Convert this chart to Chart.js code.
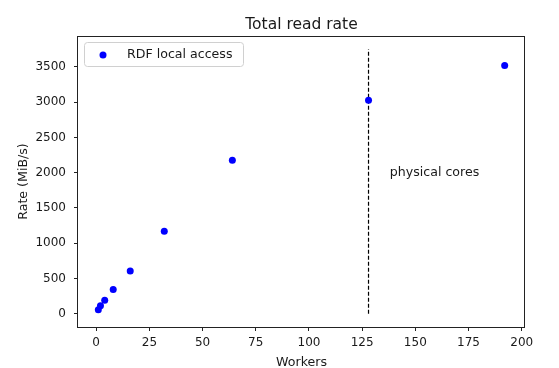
<!DOCTYPE html>
<html>
<head>
<meta charset="utf-8">
<script src="https://cdn.jsdelivr.net/npm/chart.js@4"></script>
<style>
  html, body { margin: 0; padding: 0; background: #fff; }
  #wrap { width: 559px; height: 368px; }
</style>
</head>
<body>
<div id="wrap"><canvas id="rateChart"></canvas></div>
<script>
// data
const workers = [1, 2, 4, 8, 16, 32, 64, 128, 192];
const rates = [57, 113, 193, 343, 608, 1170, 2175, 3025, 3520];
const seriesLabel = 'RDF local access';

const coresX = 128;
const coresLine = [0, 3750];
const coresText = 'physical cores';
const coresTextPos = [138, 1960];

const xTicks = [0, 25, 50, 75, 100, 125, 150, 175, 200];
const yTicks = [0, 500, 1000, 1500, 2000, 2500, 3000, 3500];

const FONT = 'DejaVu Sans';
const TXT = '#1a1a1a';

const decor = {
  id: 'decor',
  afterDraw(chart) {
    const { ctx, chartArea: a, scales } = chart;
    const x = scales.x, y = scales.y;
    ctx.save();

    // axes frame
    ctx.strokeStyle = '#222';
    ctx.lineWidth = 1;
    ctx.strokeRect(Math.round(a.left) - 0.5, Math.round(a.top) + 0.5,
      Math.round(a.right - a.left), Math.round(a.bottom - a.top));

    ctx.fillStyle = TXT;
    // title
    ctx.font = '15.5px "' + FONT + '"';
    ctx.textAlign = 'center';
    ctx.textBaseline = 'alphabetic';
    ctx.fillText('Total read rate', (a.left + a.right) / 2, 29);

    // axis titles
    ctx.font = '12.6px "' + FONT + '"';
    ctx.fillText('Workers', (a.left + a.right) / 2, 366);
    ctx.save();
    ctx.translate(26.5, (a.top + a.bottom) / 2);
    ctx.rotate(-Math.PI / 2);
    ctx.fillText('Rate (MiB/s)', 0, 0);
    ctx.restore();

    // annotation
    ctx.textAlign = 'left';
    ctx.fillText(coresText, x.getPixelForValue(coresTextPos[0]), y.getPixelForValue(coresTextPos[1]));

    // legend
    ctx.fillStyle = 'rgba(255,255,255,0.8)';
    ctx.strokeStyle = '#d0d0d0';
    ctx.beginPath();
    ctx.roundRect(84.5, 42.5, 159, 24, 3);
    ctx.fill();
    ctx.stroke();
    ctx.fillStyle = '#0000ff';
    ctx.beginPath();
    ctx.arc(103, 55, 3.5, 0, Math.PI * 2);
    ctx.fill();
    ctx.fillStyle = TXT;
    ctx.textBaseline = 'middle';
    ctx.fillText(seriesLabel, 127, 55);

    ctx.restore();
  }
};

const ctx = document.getElementById('rateChart').getContext('2d');
const chart = new Chart(ctx, {
  type: 'scatter',
  data: {
    datasets: [
      {
        label: seriesLabel,
        data: workers.map((w, i) => ({ x: w, y: rates[i] })),
        backgroundColor: '#0000ff',
        borderColor: '#0000ff',
        pointRadius: 3.5,
        pointBorderWidth: 0
      },
      {
        label: 'cores',
        type: 'line',
        data: coresLine.map(v => ({ x: coresX, y: v })),
        borderColor: '#000',
        borderWidth: 1.2,
        borderDash: [4, 2],
        pointRadius: 0
      }
    ]
  },
  options: {
    responsive: true,
    maintainAspectRatio: false,
    devicePixelRatio: 1,
    animation: false,
    layout: { padding: { left: 0, top: 36, right: 34, bottom: 0 } },
    plugins: {
      legend: { display: false },
      title: { display: false },
      tooltip: { enabled: false }
    },
    scales: {
      x: {
        type: 'linear',
        min: -8.55,
        max: 201.55,
        afterFit: s => { s.height = 41; },
        afterBuildTicks: s => { s.ticks = xTicks.map(v => ({ value: v })); },
        grid: { drawOnChartArea: false, drawTicks: true, tickLength: 4, color: '#222' },
        border: { display: false },
        ticks: {
          color: TXT, font: { family: FONT, size: 12 }, padding: 5, maxRotation: 0,
          callback: v => String(v)
        }
      },
      y: {
        type: 'linear',
        min: -187.5,
        max: 3937.5,
        afterFit: s => { s.width = 78; },
        afterBuildTicks: s => { s.ticks = yTicks.map(v => ({ value: v })); },
        grid: { drawOnChartArea: false, drawTicks: true, tickLength: 4, color: '#222' },
        border: { display: false },
        ticks: {
          color: TXT, font: { family: FONT, size: 12 }, padding: 8,
          callback: v => String(v)
        }
      }
    }
  },
  plugins: [decor]
});
</script>
</body>
</html>
